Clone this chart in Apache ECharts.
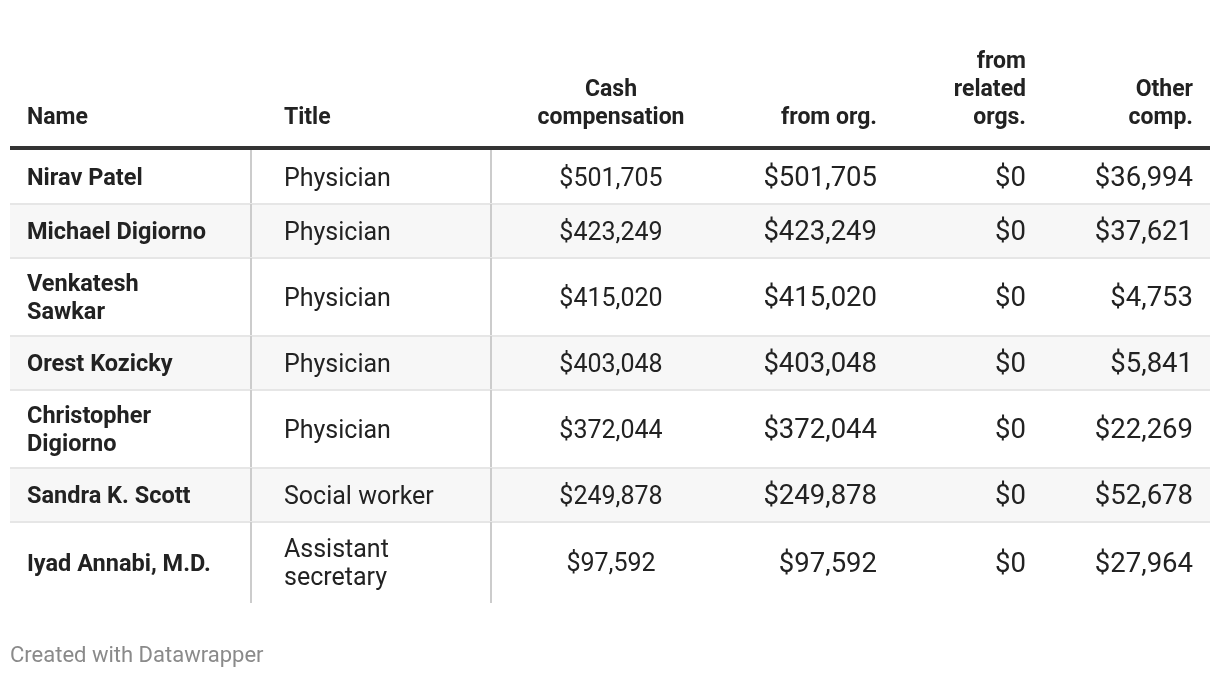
<!DOCTYPE html>
<html>
<head>
<meta charset="utf-8">
<title>Compensation table</title>
<script src="https://cdn.jsdelivr.net/npm/echarts@6/dist/echarts.min.js"></script>
<style>
html, body { margin: 0; padding: 0; background: #fff; }
#chart { width: 1220px; height: 678px; }
</style>
</head>
<body>
<div id="chart"></div>
<script>
// table contents
const headers = ['Name', 'Title', 'Cash\ncompensation', 'from org.', 'from\nrelated\norgs.', 'Other\ncomp.'];
const names = ['Nirav Patel', 'Michael Digiorno', 'Venkatesh Sawkar', 'Orest Kozicky', 'Christopher Digiorno', 'Sandra K. Scott', 'Iyad Annabi, M.D.'];
const titles = ['Physician', 'Physician', 'Physician', 'Physician', 'Physician', 'Social worker', 'Assistant secretary'];
const cashComp = [501705, 423249, 415020, 403048, 372044, 249878, 97592];
const fromOrg = [501705, 423249, 415020, 403048, 372044, 249878, 97592];
const fromRelated = [0, 0, 0, 0, 0, 0, 0];
const otherComp = [36994, 37621, 4753, 5841, 22269, 52678, 27964];
const footer = 'Created with Datawrapper';

// layout (in the axes' units, which match the page size)
const W = 1220, H = 678;
const TABLE_LEFT = 10, TABLE_RIGHT = 1210;
const HEAD_RULE_Y = 148, BODY_TOP = 150, HEAD_BOTTOM = 132;
const TEXT_DY = 2.5; // nudge cell text down a bit
const DIVIDERS = [251, 491];
const FONT = 'Roboto';
const TEXT = '#222222';

const money = v => '$' + v.toLocaleString('en-US');

const cols = [
  {x: 27,   align: 'left',   weight: 'bold',   size: 23.5, wrap: 192, get: i => names[i]},
  {x: 284,  align: 'left',   weight: 'normal', size: 25,   wrap: 190, get: i => titles[i]},
  {x: 611,  align: 'center', weight: 'normal', size: 25,   get: i => money(cashComp[i])},
  {x: 877,  align: 'right',  weight: 'normal', size: 27.5, get: i => money(fromOrg[i])},
  {x: 1026, align: 'right',  weight: 'normal', size: 27.5, get: i => money(fromRelated[i])},
  {x: 1193, align: 'right',  weight: 'normal', size: 27.5, get: i => money(otherComp[i])}
];

// word wrap with canvas metrics
const ctx = document.createElement('canvas').getContext('2d');
function wrap(text, weight, size, maxW) {
  if (!maxW) return [text];
  ctx.font = weight + ' ' + size + 'px ' + FONT;
  const words = text.split(' ');
  const lines = [];
  let cur = '';
  words.forEach(w => {
    const test = cur ? cur + ' ' + w : w;
    if (cur && ctx.measureText(test).width > maxW) {
      lines.push(cur);
      cur = w;
    } else {
      cur = test;
    }
  });
  lines.push(cur);
  return lines;
}

// cell texts and row heights
const cells = names.map((_, i) => cols.map(c => wrap(c.get(i), c.weight, c.size, c.wrap)));
const rowHeights = cells.map((row, i) => {
  const n = Math.max(...row.map(l => l.length));
  return 30 + 24 * n + (i === names.length - 1 ? 3 : 0);
});
const rowTops = [];
rowHeights.reduce((y, h) => { rowTops.push(y); return y + h; }, BODY_TOP);

function renderRow(params, api) {
  const i = params.dataIndex;
  const top = rowTops[i];
  const bottom = top + rowHeights[i];
  const p0 = api.coord([TABLE_LEFT, top]);
  const p1 = api.coord([TABLE_RIGHT, bottom]);
  const children = [];
  if (i % 2 === 1) {
    children.push({
      type: 'rect',
      shape: {x: p0[0], y: p0[1], width: p1[0] - p0[0], height: p1[1] - p0[1]},
      style: {fill: '#f7f7f7'}
    });
  }
  if (i > 0) {
    children.push({
      type: 'line',
      shape: {x1: p0[0], y1: p0[1], x2: p1[0], y2: p0[1]},
      style: {stroke: '#e6e6e6', lineWidth: 2}
    });
  }
  DIVIDERS.forEach(x => {
    const a = api.coord([x, top]);
    const b = api.coord([x, bottom]);
    children.push({
      type: 'line',
      shape: {x1: a[0], y1: a[1], x2: b[0], y2: b[1]},
      style: {stroke: '#cccccc', lineWidth: 2}
    });
  });
  const mid = api.coord([0, (top + bottom) / 2 + TEXT_DY])[1];
  cols.forEach((c, k) => {
    children.push({
      type: 'text',
      style: {
        x: api.coord([c.x, 0])[0],
        y: mid,
        text: cells[i][k].join('\n'),
        fill: TEXT,
        fontFamily: FONT,
        fontWeight: c.weight,
        fontSize: c.size,
        lineHeight: 28,
        align: c.align,
        textAlign: c.align,
        verticalAlign: 'middle',
        textVerticalAlign: 'middle'
      }
    });
  });
  return {type: 'group', children: children};
}

function renderHeader(params, api) {
  const children = [];
  const a = api.coord([TABLE_LEFT, HEAD_RULE_Y]);
  const b = api.coord([TABLE_RIGHT, HEAD_RULE_Y]);
  children.push({
    type: 'line',
    shape: {x1: a[0], y1: a[1], x2: b[0], y2: b[1]},
    style: {stroke: '#333333', lineWidth: 4}
  });
  const yb = api.coord([0, HEAD_BOTTOM])[1];
  cols.forEach((c, k) => {
    children.push({
      type: 'text',
      style: {
        x: api.coord([c.x, 0])[0],
        y: yb,
        text: headers[k],
        fill: TEXT,
        fontFamily: FONT,
        fontWeight: 'bold',
        fontSize: 23,
        lineHeight: 28,
        align: c.align,
        textAlign: c.align,
        verticalAlign: 'bottom',
        textVerticalAlign: 'bottom'
      }
    });
  });
  return {type: 'group', children: children};
}

const chart = echarts.init(document.getElementById('chart'));
chart.setOption({
  animation: false,
  backgroundColor: '#ffffff',
  title: {
    text: footer,
    left: 10,
    top: 645,
    padding: 0,
    textStyle: {fontFamily: FONT, fontSize: 22, fontWeight: 'normal', color: '#8a8a8a'}
  },
  grid: {left: 0, right: 0, top: 0, bottom: 0},
  xAxis: {type: 'value', min: 0, max: W, show: false},
  yAxis: {type: 'value', min: 0, max: H, inverse: true, show: false},
  series: [
    {
      name: 'rows',
      type: 'custom',
      renderItem: renderRow,
      data: names.map((_, i) => [TABLE_LEFT, rowTops[i]])
    },
    {
      name: 'header',
      type: 'custom',
      renderItem: renderHeader,
      data: [[TABLE_LEFT, HEAD_RULE_Y]]
    }
  ]
});
window.addEventListener('resize', () => chart.resize());
</script>
</body>
</html>
